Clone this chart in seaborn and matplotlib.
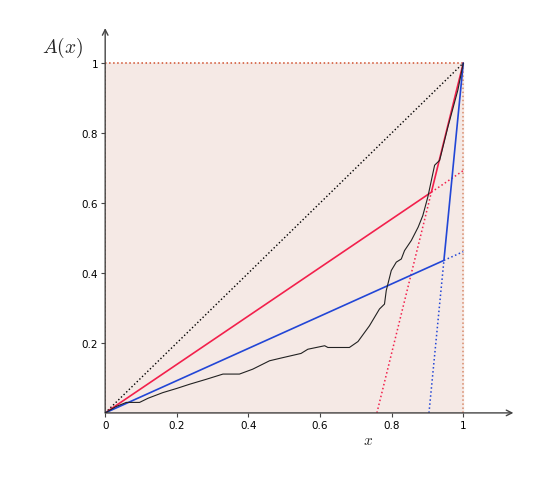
import numpy as np
import pandas as pd
import matplotlib
matplotlib.use("Agg")
import matplotlib.pyplot as plt
import seaborn as sns

# data
curve_x = [0, 0.03, 0.059, 0.096, 0.12, 0.161, 0.2, 0.236, 0.282, 0.329, 0.375,
           0.412, 0.459, 0.492, 0.547, 0.566, 0.613, 0.622, 0.682, 0.706, 0.738,
           0.766, 0.78, 0.785, 0.799, 0.813, 0.827, 0.836, 0.855, 0.874, 0.887,
           0.901, 0.911, 0.92, 0.934, 0.957, 0.985, 1.0]
curve_y = [0, 0.018, 0.03, 0.03, 0.042, 0.058, 0.07, 0.082, 0.096, 0.111, 0.111,
           0.125, 0.149, 0.157, 0.17, 0.182, 0.192, 0.187, 0.187, 0.204, 0.249,
           0.297, 0.311, 0.35, 0.407, 0.431, 0.44, 0.464, 0.493, 0.531, 0.564,
           0.617, 0.665, 0.708, 0.722, 0.817, 0.923, 1.0]

red_kink = (0.911, 0.631)
blue_kink = (0.946, 0.436)

x_ticks = [0, 0.2, 0.4, 0.6, 0.8, 1]
x_labels = ["0", "0.2", "0.4", "0.6", "0.8", "1"]
y_ticks = [0.2, 0.4, 0.6, 0.8, 1]
y_labels = ["0.2", "0.4", "0.6", "0.8", "1"]

red = "#f2204c"
blue = "#2246d6"

sns.set_style("white")
plt.rcParams["mathtext.fontset"] = "cm"
plt.rcParams["font.family"] = ["DejaVu Sans"]

fig = plt.figure(figsize=(5.45, 4.81), dpi=100)
ax = fig.add_axes([0.193, 0.1395, 0.749, 0.8])

# shaded unit square
ax.fill_between([0, 1], 0, 1, color="#f5e9e5", zorder=0)
ax.plot([0, 1], [1, 1], ls=":", color="#d0502e", lw=1.1, zorder=1)
ax.plot([1, 1], [0, 1], ls=":", color="#d88a6a", lw=1.1, zorder=1)
ax.plot([0, 0], [0, 1], ls=":", color="#c0603a", lw=1.1, zorder=1)

# diagonal
ax.plot([0, 1], [0, 1], ls=":", color="black", lw=1.0, zorder=2)

def two_segments(kink, color):
    kx, ky = kink
    slope1 = ky / kx
    slope2 = (1 - ky) / (1 - kx)
    x0 = 1 - 1 / slope2
    ax.plot([kx, 1], [ky, slope1], ls=":", color=color, lw=1.1, zorder=2)
    ax.plot([x0, kx], [0, ky], ls=":", color=color, lw=1.1, zorder=2)
    seg = pd.DataFrame({"x": [0, kx, 1], "y": [0, ky, 1]})
    sns.lineplot(data=seg, x="x", y="y", sort=False, color=color, lw=1.2,
                 ax=ax, zorder=3)

two_segments(red_kink, red)
two_segments(blue_kink, blue)

curve = pd.DataFrame({"x": curve_x, "y": curve_y})
sns.lineplot(data=curve, x="x", y="y", sort=False, color="#222222", lw=0.8,
             ax=ax, zorder=4)

ax.set_xlim(0, 1.14)
ax.set_ylim(0, 1.1)
for s in ax.spines.values():
    s.set_visible(False)

ax.annotate("", xy=(1.0, 0), xycoords="axes fraction", xytext=(0, 0),
            arrowprops=dict(arrowstyle="->", color="#444444", lw=1.0,
                            shrinkA=0, shrinkB=0))
ax.annotate("", xy=(0, 1.0), xycoords="axes fraction", xytext=(0, 0),
            arrowprops=dict(arrowstyle="->", color="#444444", lw=1.0,
                            shrinkA=0, shrinkB=0))

ax.set_xticks(x_ticks)
ax.set_xticklabels(x_labels)
ax.set_yticks(y_ticks)
ax.set_yticklabels(y_labels)
ax.tick_params(axis="both", direction="out", length=3, width=0.8,
               color="#444444", labelcolor="black", labelsize=7.5, pad=2,
               bottom=True, left=True)

ax.set_xlabel("")
ax.set_ylabel("")
fig.text(0.115, 0.9, r"$A(x)$", fontsize=14, ha="center", va="center")
fig.text(0.675, 0.085, r"$x$", fontsize=11, ha="center", va="center")

fig.savefig("out.png", dpi=100)
